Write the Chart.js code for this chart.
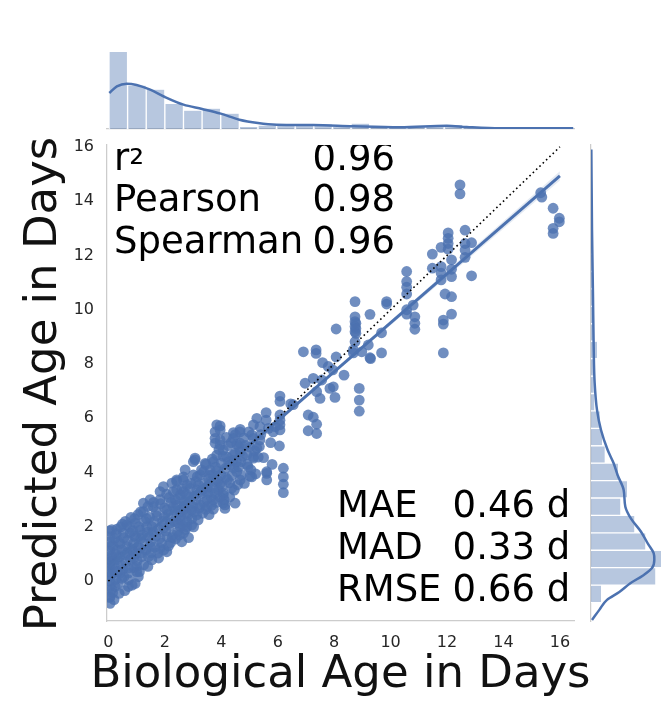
<!DOCTYPE html>
<html>
<head>
<meta charset="utf-8">
<script src="https://cdn.jsdelivr.net/npm/chart.js@4.4.1/dist/chart.umd.min.js"></script>
<style>
  body { margin: 0; background: #fff; }
  #wrap { position: relative; width: 661px; height: 701px; overflow: hidden; font-family: 'DejaVu Sans'; }
  canvas { position: absolute; left: 0; top: 0; }
  .stat { position: absolute; font-size: 37px; line-height: 43px; color: #000; white-space: pre; }
  .axtitle { position: absolute; font-size: 45px; line-height: 54px; color: #111; white-space: pre; text-align: center; }
</style>
</head>
<body>
<div id="wrap">
  <canvas id="main" width="661" height="701"></canvas>
  <canvas id="top" width="661" height="701"></canvas>
  <canvas id="side" width="661" height="701"></canvas>
  <div id="clipTop" style="position:absolute;left:107px;top:145px;width:470px;height:130px;overflow:hidden"></div>
  <div id="xTitle" class="axtitle" style="left:10px;top:645.4px;width:661px"></div>
  <div id="yTitle" class="axtitle" style="left:-258.6px;top:357px;width:600px;transform:rotate(-90deg)"></div>
</div>
<script>
const FONT = 'DejaVu Sans';
const BLUE = '#4c72b0';

const xTitle = 'Biological Age in Days';
const yTitle = 'Predicted Age in Days';
const xTicks = [0, 2, 4, 6, 8, 10, 12, 14, 16];
const yTicks = [0, 2, 4, 6, 8, 10, 12, 14, 16];

const statNamesTop = ['r²', 'Pearson', 'Spearman'];
const statValuesTop = ['0.96', '0.98', '0.96'];
const statNamesBottom = ['MAE', 'MAD', 'RMSE'];
const statValuesBottom = ['0.46 d', '0.33 d', '0.66 d'];

// biological age (x), predicted age (y)
const agePoints = [
  [12.46,14.6],[12.46,14.27],[15.32,14.31],[15.36,14.15],[15.76,13.74],[15.98,13.37],[15.98,13.24],
  [15.76,13.0],[15.76,12.81],[12.04,12.83],[12.04,12.63],[12.04,12.44],[12.04,12.23],[12.64,12.93],
  [12.87,12.47],[12.64,12.44],[12.64,12.2],[12.64,11.93],[11.79,12.3],[11.48,12.05],[12.16,11.84],
  [11.48,11.53],[11.79,11.59],[12.16,11.49],[12.16,11.22],[11.79,11.35],[11.79,11.1],[12.87,11.25],
  [11.93,10.58],[12.16,10.48],[12.16,9.84],[11.87,9.62],[11.87,9.47],[11.87,8.41],
  [10.57,11.41],[10.57,11.04],[10.57,10.83],[10.57,10.58],[10.8,10.17],[10.57,10.0],[10.57,9.84],
  [10.86,9.74],[10.86,9.5],[10.86,9.28],[9.86,10.3],[9.86,10.21],[9.27,9.83],[9.68,9.15],[9.68,8.41],
  [9.27,8.23],[8.74,10.3],[8.74,9.74],[8.74,9.56],[8.74,9.38],[8.74,9.19],[8.74,8.82],[8.68,8.52],
  [8.68,8.41],[9.21,8.7],[8.98,8.45],[8.07,9.29],[8.07,8.26],[8.35,7.59],[8.89,7.1],[8.89,6.67],
  [8.89,6.26],[7.97,7.16],[7.95,7.78],[8.77,9.5],[8.77,9.31],[8.77,9.13],[6.91,8.45],[7.36,8.52],
  [7.36,8.39],[9.29,8.2],[7.59,8.05],[7.79,7.91],[6.97,7.29],[7.26,7.47],[7.56,7.41],[7.85,7.1],
  [7.38,6.98],[7.5,6.73],[8.03,6.77],[6.08,6.82],[6.08,6.62],[6.46,6.53],[7.08,6.12],[7.26,6.04],
  [7.38,5.78],[7.38,5.44],[7.08,5.54],[6.06,4.98],[5.59,6.21],[5.26,6.0],[5.59,5.93],[6.08,5.93],
  [6.08,5.57],[5.37,5.69],[5.67,5.63],[5.91,5.69],[5.14,5.26],[5.35,4.96],[5.14,4.59],[5.61,3.97],
  [6.2,4.16],[6.2,3.84],[5.08,3.84],[6.55,6.5],[5.14,5.76],[6.08,6.12],[6.08,5.76],[5.84,5.5],
  [3.96,5.72],[4.67,5.59],[3.78,5.5],[4.43,5.47],[4.43,5.26],[3.96,5.2],[3.78,5.08],[4.67,5.08],
  [4.07,4.83],[4.67,4.77],[5.08,5.39],[5.37,5.2],[5.26,4.9],[5.14,4.53],[5.31,4.57],[3.84,4.64],
  [4.19,4.59],[4.49,4.71],[3.07,4.47],[3.43,4.34],[3.72,4.4],[4.31,4.28],[4.61,4.21],[4.55,4.03],
  [4.67,3.73],[5.02,3.87],[5.61,4.03],[5.61,3.73],[6.2,3.57],[6.2,3.26],[2.72,4.1],[2.66,3.73],
  [3.01,3.91],[3.37,4.03],[2.42,3.67],[2.42,3.36],[2.66,3.3],[2.89,3.42],[3.19,3.54],[3.54,3.48],
  [3.78,3.67],[3.9,3.36],[4.37,3.42],[4.07,3.17],[4.07,2.87],[4.49,2.87],[4.13,2.68],[2.36,3.0],
  [2.66,2.74],[2.95,2.62],[3.25,2.81],[3.49,3.0],[3.72,3.0],[2.42,2.38],[2.78,2.19],[3.13,2.44],
  [2.19,2.14],[2.54,2.01],[1.95,3.48],[2.78,3.54],[3.13,3.36],[3.49,3.42],[3.78,3.24],[4.07,3.24],
  [4.13,2.81],[1.24,2.87],[1.48,3.0],[1.24,2.56],[1.59,2.74],[1.83,3.0],[2.07,2.62],[2.3,2.74],
  [2.54,2.56],[2.78,2.5],[2.54,2.25],[2.78,2.01],[2.66,1.77],[2.6,1.45],[0.65,2.07],[0.95,2.14],
  [0.53,1.77],[0.77,1.77],[1.12,1.88],[1.36,2.01],[1.59,1.82],[1.83,1.58],[2.07,1.64],[2.3,1.7],
  [1.54,0.78],[1.83,1.21],[2.07,1.08],[1.48,1.27],[0.41,1.39],[0.3,1.15],[0.65,1.27],[0.89,1.39],
  [1.12,1.21],[0.59,0.96],[0.89,0.85],[1.18,0.9],[0.3,0.78],[0.18,0.41],[0.41,0.29],[0.71,0.48],
  [1.0,0.54],[0.71,0.05],[1.0,0.35],[0.35,-0.08],[0.71,-0.2],[1.06,0.16],[0.06,1.64],[0.06,1.27],
  [0.06,0.91],[0.06,0.54],[0.06,0.16],[0.06,-0.21],[0.06,-0.57],[0.06,-0.82],[3.84,5.76],[3.96,5.57],
  [3.78,5.26],[3.96,5.01],[3.07,4.53],[3.01,4.4],[1.83,3.3],[2.25,3.61],[2.66,3.84],[2.42,3.73],
  [3.6,4.1],[3.25,3.91],[0.12,1.9],[0.15,-0.43],[0.22,1.57],[0.25,0.06],[0.45,0.59],[0.5,2.1],
  [0.55,0.15],[0.8,2.35],[0.85,1.13],[0.92,1.67],[1.05,2.45],[1.15,1.57],[1.3,1.38],[1.35,2.3],
  [1.45,1.62],[1.62,2.2],[1.7,2.55],[1.75,1.03],[1.95,1.96],[1.98,2.35],[2.15,3.08],[2.2,1.42],
  [2.35,2.6],[2.45,1.81],[2.55,3.18],[2.7,2.94],[2.85,3.08],[2.95,2.06],[3.05,3.13],[3.1,3.67],
  [3.3,3.23],[3.35,3.38],[3.45,2.64],[3.55,3.77],[3.65,2.79],[3.7,3.91],[3.85,4.06],[3.95,3.57],
  [4.0,4.35],[4.15,3.82],[4.25,4.99],[4.3,3.62],[4.4,4.45],[4.45,4.16],[4.55,5.04],[4.7,4.4],
  [4.8,5.28],[4.9,4.65],[4.95,4.21],[5.0,4.94],[1.4,0.54],[0.3,1.91],[0.95,-0.09],[0.2,-0.68],[0.1,0.74],
  [0.04,-0.6],[0.04,0.0],[0.04,0.35],[0.04,0.7],[0.04,1.1],[0.04,1.45],[0.04,1.85],[0.12,-0.3],
  [0.12,0.25],[0.14,0.9],[0.16,1.3],[0.2,0.6],[0.24,-0.2],[0.26,1.0],[0.28,1.75],[0.33,0.35],
  [0.36,1.45],[0.38,-0.45],[0.4,0.9],[0.44,2.0],[0.47,0.1],[0.48,1.15],[0.52,0.45],[0.55,1.6],
  [0.58,-0.35],[0.6,2.2],[0.62,0.7],[0.66,1.05],[0.68,1.5],[0.72,0.3],[0.75,2.0],[0.78,0.8],
  [0.82,1.2],[0.84,-0.15],[0.86,1.85],[0.9,0.5],[0.93,2.3],[0.96,1.0],[0.98,1.6],[1.02,0.75],
  [1.05,1.25],[1.08,2.0],[1.1,0.35],[1.14,2.55],[1.18,1.05],[1.2,1.7],[1.25,0.6],[1.28,2.2],
  [1.32,1.15],[1.38,1.8],[1.4,2.75],[1.42,0.9],[1.46,2.35],[1.5,1.45],[1.52,1.05],[1.55,2.0],
  [1.6,2.9],[1.64,1.25],[1.68,1.65],[1.72,2.4],[1.78,0.85],[1.8,1.9],[1.85,2.85],[1.88,1.4],
  [1.92,2.2],[1.96,1.15],[1.99,2.7],[2.03,1.85],[2.06,3.2],[2.1,2.45],[2.13,1.3],[2.17,2.05],
  [2.22,2.9],[2.26,1.6],[2.3,3.3],[2.33,2.2],[2.38,1.55],[2.42,2.8],[2.46,2.15],[2.5,3.05],
  [2.52,1.7],[2.56,2.4],[2.6,3.4],[2.64,2.05],[2.68,2.65],[2.73,1.9],[2.76,3.2],[2.8,2.4],
  [2.84,1.6],[2.88,2.85],[2.92,3.6],[2.96,2.3],[2.99,2.75],[3.02,2.0],[3.06,2.55],[3.1,3.0],
  [3.15,3.85],[3.18,2.25],[3.22,2.7],[3.27,3.3],[3.3,4.1],[3.34,2.5],[3.38,2.9],[3.42,3.6],
  [3.46,4.3],[3.5,2.75],[3.53,3.25],[3.57,2.45],[3.6,3.9],[3.64,3.1],[3.68,4.5],[3.72,2.65],
  [3.76,3.45],[3.8,4.2],[3.84,2.9],[3.88,3.7],[3.92,4.85],[3.96,3.1],[3.99,3.9],[4.03,3.5],
  [4.06,4.6],[4.1,3.0],[4.14,4.15],[4.18,5.3],[4.22,3.75],[4.26,4.4],[4.3,3.1],[4.34,5.1],
  [4.38,3.9],[4.42,4.65],[4.46,3.35],[4.5,5.4],[4.54,4.4],[4.58,3.55],[4.62,4.95],[4.66,5.5],
  [4.72,3.9],[4.76,4.6],[4.82,3.6],[4.86,5.0],[4.92,4.3],[4.97,5.5],[5.05,4.1],[5.18,4.8],
  [5.22,3.95],[5.4,5.4],[5.5,4.55],[5.75,5.1],[5.8,4.3]
];

const identityLine = [[0, 0], [16, 16]];
const fitLine = [[0, 0.5], [16, 14.93]];
const fitUpper = [[0, 0.65], [8, 7.75], [16, 15.1]];
const fitLower = [[0, 0.35], [8, 7.65], [16, 14.76]];

// marginal histogram of biological age: first bin start, bin width, bar heights
const topBinStart = 0.02;
const topBinWidth = 0.66;
const topCounts = [231, 130, 118, 75, 55, 61, 46, 6, 10, 10, 10, 14, 6, 16, 6, 6, 6, 10, 12, 6, 2, 2, 2, 4, 4];
const topKde = [[0.03,108],[0.3,128],[0.65,136],[1.0,132],[1.48,118],[2.0,96],[2.66,73],[3.32,60],
  [3.98,46],[4.64,28],[5.3,18],[5.96,13],[7.26,12],[8.68,8],[10.33,5],[11.99,10],[12.7,6],
  [13.88,2],[15.05,2],[16.47,2]];

// marginal histogram of predicted age
const sideBinStart = -0.79;
const sideBinWidth = 0.642;
const sideCounts = [30, 193, 210, 163, 130, 88, 108, 81, 41, 33, 26, 10, 8, 10, 18, 8, 6, 4, 4, 3, 2, 2, 2, 1, 1, 1];
const sideKde = [[-1.43,3],[-1.06,25],[-0.69,48],[-0.4,85],[-0.08,118],[0.2,155],[0.48,183],[0.8,190],
  [1.03,188],[1.35,172],[1.82,150],[2.3,120],[2.74,103],[3.36,98],[3.9,80],[4.34,68],[4.83,50],
  [5.57,30],[6.31,18],[7.29,11],[8.64,8],[10.48,6],[12.94,3],[15.9,1]];

const xMin = -0.05, xMax = 16.5;
const yMin = -1.47, yMax = 16.07;

// text blocks
document.getElementById('xTitle').textContent = xTitle;
document.getElementById('yTitle').textContent = yTitle;

function addStat(parent, text, left, top) {
  const d = document.createElement('div');
  d.className = 'stat';
  d.style.left = left + 'px';
  d.style.top = top + 'px';
  if (text === 'r²') {
    d.innerHTML = 'r<span style="position:relative;top:6px">²</span>';
  } else {
    d.textContent = text;
  }
  parent.appendChild(d);
}
const clipTop = document.getElementById('clipTop');
const wrap = document.getElementById('wrap');
statNamesTop.forEach((t, i) => addStat(clipTop, t, 7, -9.3 + 41.5 * i));
statValuesTop.forEach((t, i) => addStat(clipTop, t, 205.6, -9.3 + 41.5 * i));
statNamesBottom.forEach((t, i) => addStat(wrap, t, 337, 483.2 + 42 * i));
statValuesBottom.forEach((t, i) => addStat(wrap, t, 452.6, 483.2 + 42 * i));

const xy = arr => arr.map(p => ({x: p[0], y: p[1]}));
const spine = {color: '#cccccc', width: 1.25};
const noGrid = {display: false, drawTicks: false};
const base = {
  responsive: false,
  animation: false,
  devicePixelRatio: 1,
  plugins: {legend: {display: false}, tooltip: {enabled: false}}
};

new Chart(document.getElementById('main'), {
  type: 'scatter',
  data: {
    datasets: [
      {type: 'line', data: xy(identityLine), borderColor: '#000', borderWidth: 1.6,
       borderDash: [1.6, 3], pointRadius: 0, fill: false},
      {type: 'line', data: xy(fitLine), borderColor: BLUE, borderWidth: 3, pointRadius: 0, fill: false},
      {type: 'line', data: xy(fitUpper), borderWidth: 0, pointRadius: 0,
       fill: '+1', backgroundColor: 'rgba(76,114,176,0.15)'},
      {type: 'line', data: xy(fitLower), borderWidth: 0, pointRadius: 0, fill: false},
      {data: xy(agePoints), pointRadius: 5.4, backgroundColor: 'rgba(76,114,176,0.8)', borderWidth: 0, clip: 0}
    ]
  },
  options: {
    ...base,
    layout: {padding: {top: 145, right: 87, left: 0, bottom: 0}},
    scales: {
      x: {
        type: 'linear', min: xMin, max: xMax,
        afterBuildTicks: s => { s.ticks = xTicks.map(v => ({value: v})); },
        afterFit: s => { s.height = 80; },
        grid: noGrid, border: spine,
        ticks: {font: {family: FONT, size: 16}, color: '#262626', padding: 12, maxRotation: 0}
      },
      y: {
        type: 'linear', min: yMin, max: yMax,
        afterBuildTicks: s => { s.ticks = yTicks.map(v => ({value: v})); },
        afterFit: s => { s.width = 107; },
        grid: noGrid, border: spine,
        ticks: {font: {family: FONT, size: 16}, color: '#262626', padding: 13}
      }
    }
  }
});

const topBars = topCounts.map((c, i) => ({x: topBinStart + topBinWidth * (i + 0.5), y: c}));
new Chart(document.getElementById('top'), {
  type: 'bar',
  data: {
    datasets: [
      {type: 'line', data: xy(topKde), borderColor: BLUE, borderWidth: 2.5, pointRadius: 0,
       cubicInterpolationMode: 'monotone', fill: false},
      {type: 'bar', data: topBars, backgroundColor: 'rgba(76,114,176,0.4)', borderColor: '#ffffff',
       borderWidth: {left: 1, right: 1, top: 0, bottom: 0}, barPercentage: 1, categoryPercentage: 1}
    ]
  },
  options: {
    ...base,
    layout: {padding: {left: 107, right: 87, top: 45, bottom: 572}},
    scales: {
      x: {type: 'linear', min: xMin, max: xMax, offset: false, ticks: {display: false},
          grid: {display: false, drawTicks: false, offset: false}, border: spine,
          afterFit: s => { s.height = 0; }},
      y: {display: false, min: 0, max: 252}
    }
  }
});

const sideBars = sideCounts.map((c, i) => ({x: c, y: sideBinStart + sideBinWidth * (i + 0.5)}));
new Chart(document.getElementById('side'), {
  type: 'bar',
  data: {
    datasets: [
      {type: 'line', data: sideKde.map(p => ({x: p[1], y: p[0]})), borderColor: BLUE, borderWidth: 2.5,
       pointRadius: 0, cubicInterpolationMode: 'monotone', fill: false},
      {type: 'bar', data: sideBars, backgroundColor: 'rgba(76,114,176,0.4)', borderColor: '#ffffff',
       borderWidth: {left: 0, right: 0, top: 1, bottom: 1}, barPercentage: 1, categoryPercentage: 1}
    ]
  },
  options: {
    ...base,
    indexAxis: 'y',
    layout: {padding: {left: 591, right: 0, top: 145, bottom: 80}},
    scales: {
      y: {type: 'linear', min: yMin, max: yMax, offset: false, ticks: {display: false},
          grid: {display: false, drawTicks: false, offset: false}, border: spine,
          afterFit: s => { s.width = 0; }},
      x: {display: false, min: 0, max: 210}
    }
  }
});
</script>
</body>
</html>
